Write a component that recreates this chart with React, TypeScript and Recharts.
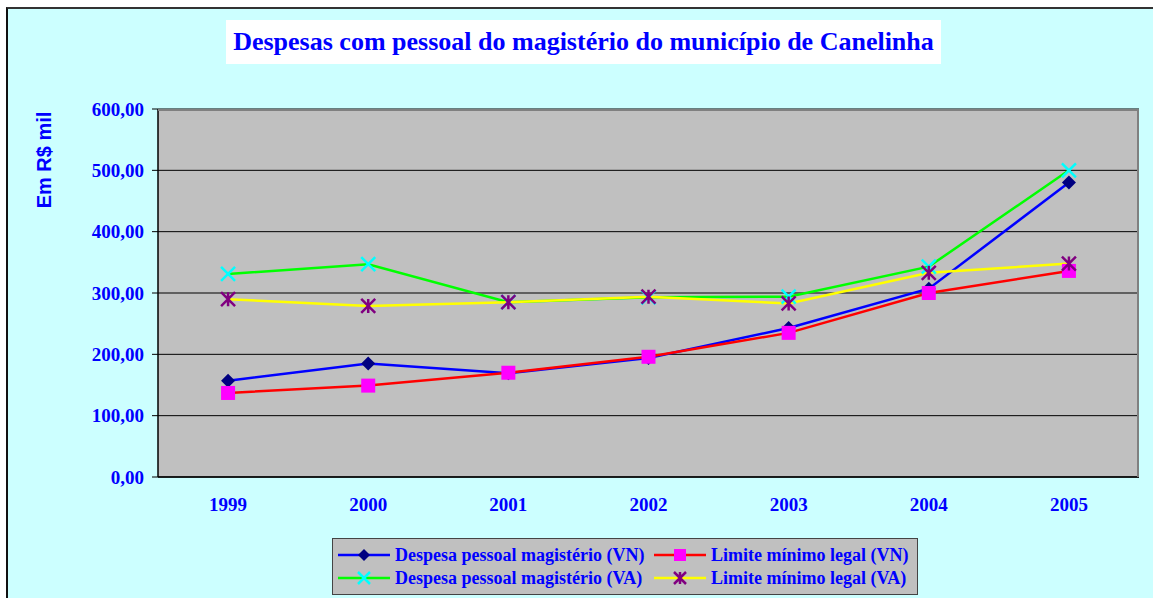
import { CartesianGrid, Line, LineChart, XAxis, YAxis } from "recharts";

const years = ["1999", "2000", "2001", "2002", "2003", "2004", "2005"];
const despesaVN = [157, 185, 169, 194, 243, 307, 480];
const limiteVN = [137, 149, 170, 196, 235, 300, 336];
const despesaVA = [331, 347, 285, 293, 294, 343, 500];
const limiteVA = [290, 279, 285, 294, 283, 333, 348];
const yTicks = [0, 100, 200, 300, 400, 500, 600];

const data = years.map((y, i) => ({
  ano: y,
  dvn: despesaVN[i],
  lvn: limiteVN[i],
  dva: despesaVA[i],
  lva: limiteVA[i],
}));

const blue = "#0000FF";
const serif = "'Liberation Serif', 'Times New Roman', serif";
const fmt = (v: number) => v.toFixed(2).replace(".", ",");

function Diamond({ cx, cy, size = 7 }: any) {
  return (
    <path
      d={`M${cx},${cy - size} L${cx + size},${cy} L${cx},${cy + size} L${cx - size},${cy} Z`}
      fill="#000080"
    />
  );
}
function Square({ cx, cy, size = 7 }: any) {
  return <rect x={cx - size} y={cy - size} width={size * 2} height={size * 2} fill="#FF00FF" />;
}
function Cross({ cx, cy, size = 7 }: any) {
  return (
    <path
      d={`M${cx - size},${cy - size} L${cx + size},${cy + size} M${cx - size},${cy + size} L${cx + size},${cy - size}`}
      stroke="#00FFFF"
      strokeWidth={2.5}
    />
  );
}
function Star({ cx, cy, size = 7 }: any) {
  return (
    <path
      d={`M${cx - size},${cy - size} L${cx + size},${cy + size} M${cx - size},${cy + size} L${cx + size},${cy - size} M${cx},${cy - size} L${cx},${cy + size}`}
      stroke="#800080"
      strokeWidth={2.5}
    />
  );
}

const dotFn = (Comp: any) => (p: any) => <Comp key={p.index} cx={p.cx} cy={p.cy} />;

function LegendItem({ color, Marker, label }: any) {
  return (
    <div style={{ display: "flex", alignItems: "center", height: 23 }}>
      <svg width={54} height={16} style={{ marginRight: 4, flexShrink: 0 }}>
        <line x1={1} y1={8} x2={53} y2={8} stroke={color} strokeWidth={2.5} />
        <Marker cx={27} cy={8} size={6} />
      </svg>
      <span style={{ whiteSpace: "nowrap" }}>{label}</span>
    </div>
  );
}

export default function App() {
  return (
    <div style={{ position: "absolute", left: 0, top: 0, width: 1153, height: 598, overflow: "hidden", background: "#fff" }}>
      <div
        style={{
          position: "absolute",
          left: 6,
          top: 7,
          width: 1200,
          height: 700,
          background: "#CCFFFF",
          borderTop: "2px solid #333",
          borderLeft: "2px solid #111",
        }}
      />
      <div
        style={{
          position: "absolute",
          left: 226,
          top: 20,
          width: 715,
          height: 44,
          background: "#fff",
          color: blue,
          fontFamily: serif,
          fontWeight: "bold",
          fontSize: 26,
          display: "flex",
          alignItems: "center",
          justifyContent: "center",
          whiteSpace: "nowrap",
        }}
      >
        Despesas com pessoal do magistério do município de Canelinha
      </div>
      <div
        style={{
          position: "absolute",
          left: 44,
          top: 160,
          transform: "translate(-50%, -50%) rotate(-90deg)",
          color: blue,
          fontFamily: "'Liberation Sans', Arial, sans-serif",
          fontWeight: "bold",
          fontSize: 20,
          whiteSpace: "nowrap",
        }}
      >
        Em R$ mil
      </div>
      <div style={{ position: "absolute", left: 0, top: 0 }}>
        <LineChart width={1153} height={598} data={data} margin={{ top: 109, right: 14, left: 98, bottom: 91 }}>
          <CartesianGrid fill="#C0C0C0" vertical={false} stroke="#000" strokeOpacity={1} />
          <XAxis
            dataKey="ano"
            scale="band"
            axisLine={{ stroke: "#000", strokeWidth: 1.5 }}
            tickLine={false}
            tickSize={0}
            tickMargin={21}
            height={30}
            tick={{ fill: blue, fontFamily: serif, fontWeight: "bold", fontSize: 19 }}
          />
          <YAxis
            domain={[0, 600]}
            ticks={yTicks}
            width={60}
            interval={0}
            axisLine={{ stroke: "#000", strokeWidth: 1.5 }}
            tickLine={{ stroke: "#000" }}
            tickSize={6}
            tickMargin={8}
            tickFormatter={fmt}
            tick={{ fill: blue, fontFamily: serif, fontWeight: "bold", fontSize: 19 }}
          />
          <Line dataKey="dvn" stroke="#0000FF" strokeWidth={2.5} dot={dotFn(Diamond)} isAnimationActive={false} />
          <Line dataKey="lvn" stroke="#FF0000" strokeWidth={2.5} dot={dotFn(Square)} isAnimationActive={false} />
          <Line dataKey="dva" stroke="#00FF00" strokeWidth={2.5} dot={dotFn(Cross)} isAnimationActive={false} />
          <Line dataKey="lva" stroke="#FFFF00" strokeWidth={2.5} dot={dotFn(Star)} isAnimationActive={false} />
        </LineChart>
      </div>
      <div
        style={{
          position: "absolute",
          left: 158,
          top: 109,
          width: 981,
          height: 368,
          boxSizing: "border-box",
          borderTop: "2px solid #808080",
          borderRight: "2px solid #808080",
          pointerEvents: "none",
        }}
      />
      <div
        style={{
          position: "absolute",
          left: 332,
          top: 538,
          width: 586,
          height: 57,
          boxSizing: "border-box",
          background: "#C0C0C0",
          border: "1.5px solid #444",
          color: blue,
          fontFamily: serif,
          fontWeight: "bold",
          fontSize: 18,
          display: "grid",
          gridTemplateColumns: "316px 262px",
          alignContent: "center",
          paddingLeft: 4,
          rowGap: 0,
        }}
      >
        <LegendItem color="#0000FF" Marker={Diamond} label="Despesa pessoal magistério (VN)" />
        <LegendItem color="#FF0000" Marker={Square} label="Limite mínimo legal (VN)" />
        <LegendItem color="#00FF00" Marker={Cross} label="Despesa pessoal magistério (VA)" />
        <LegendItem color="#FFFF00" Marker={Star} label="Limite mínimo legal (VA)" />
      </div>
    </div>
  );
}
